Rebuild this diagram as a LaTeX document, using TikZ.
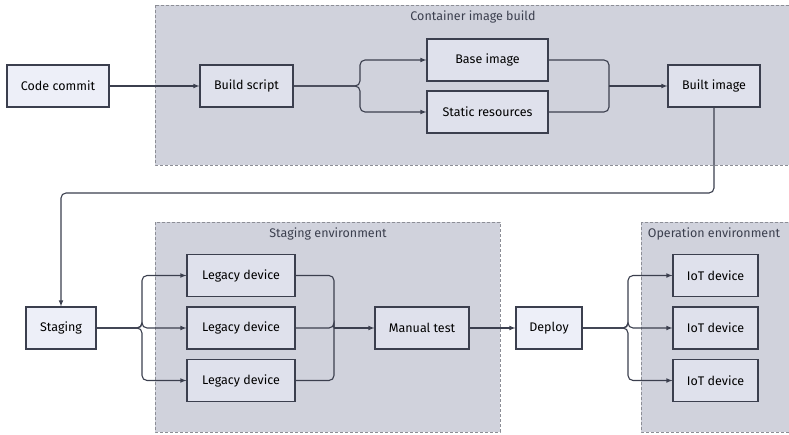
\documentclass[tikz,border=0pt]{standalone}
\usepackage{fontspec}
\setmainfont{Fira Sans}
\usetikzlibrary{positioning}

\definecolor{edge}{HTML}{3B3F4E}
\definecolor{boxin}{HTML}{DFE1EC}
\definecolor{boxout}{HTML}{EDEFF8}
\definecolor{zone}{HTML}{D0D2DC}
\definecolor{zoneline}{HTML}{8C8E96}

\begin{document}
\begin{tikzpicture}[x=1pt,y=-1pt,>=latex,
    box/.style={draw=edge,fill=boxin,line width=1.1pt,minimum height=42pt,
      inner sep=0pt,font=\fontsize{12.5}{14}\selectfont},
    outbox/.style={box,fill=boxout},
    zonebox/.style={draw=zoneline,fill=zone,dash pattern=on 3pt off 2pt,line width=0.8pt},
    zonelabel/.style={font=\fontsize{12.5}{14}\selectfont,text=edge},
    link/.style={draw=edge,line width=1.1pt,rounded corners=5pt,->}]
    \useasboundingbox (0,0) rectangle (789,434) ;

    % clusters
    \draw [zonebox] (155,5) rectangle (792,165) ;
    \draw [zonebox] (155,222) rectangle (500,432) ;
    \draw [zonebox] (641,222) rectangle (792,432) ;
    \node [zonelabel] (lbuild) at (473,17) {Container image build} ;
    \node [zonelabel] (lstage) at (328,234) {Staging environment} ;
    \node [zonelabel] (loper) at (714,234) {Operation environment} ;

    % first row
    \node [outbox,minimum width=102pt] (commit) at (58,86) {Code commit} ;
    \node [box,minimum width=93pt] (script) at (246.5,86) {Build script} ;
    \node [box,minimum width=121pt] (base) at (487.5,60) {Base image} ;
    \node [box,minimum width=121pt] (static) at (487.5,112) {Static resources} ;
    \node [box,minimum width=92pt] (built) at (714,86) {Built image} ;

    % second row
    \node [outbox,minimum width=70pt] (staging) at (61,328) {Staging} ;
    \foreach \i/\y in {1/275.5,2/328,3/380.5}
      \node [box,minimum width=108pt] (legacy\i) at (241,\y) {Legacy device} ;
    \node [box,minimum width=94pt] (manual) at (422,328) {Manual test} ;
    \node [outbox,minimum width=66pt] (deploy) at (549,328) {Deploy} ;
    \foreach \i/\y in {1/275.5,2/328,3/380.5}
      \node [box,minimum width=85pt] (iot\i) at (715.5,\y) {IoT device} ;

    % junctions
    \coordinate (jsplit) at (360,86) ;
    \coordinate (jmerge) at (609,86) ;
    \coordinate (jturn) at (714,193) ;
    \coordinate (jstage) at (142,328) ;
    \coordinate (jtest) at (334,328) ;
    \coordinate (jdeploy) at (628,328) ;

    \draw [link] (commit) -- (script) ;
    \draw [link] (script.east) -- (jsplit) |- (base.west) ;
    \draw [link] (script.east) -- (jsplit) |- (static.west) ;
    \draw [link,-] (base.east) -| (jmerge) ;
    \draw [link,-] (static.east) -| (jmerge) ;
    \draw [link] (jmerge) -- (built.west) ;
    \draw [link] (built.south) -- (jturn) -| (staging.north) ;

    \foreach \i in {1,2,3} {
      \draw [link] (staging.east) -- (jstage) |- (legacy\i.west) ;
      \draw [link,-] (legacy\i.east) -| (jtest) ;
      \draw [link] (deploy.east) -- (jdeploy) |- (iot\i.west) ;
    }
    \draw [link] (jtest) -- (manual.west) ;
    \draw [link] (manual) -- (deploy) ;
\end{tikzpicture}
\end{document}
